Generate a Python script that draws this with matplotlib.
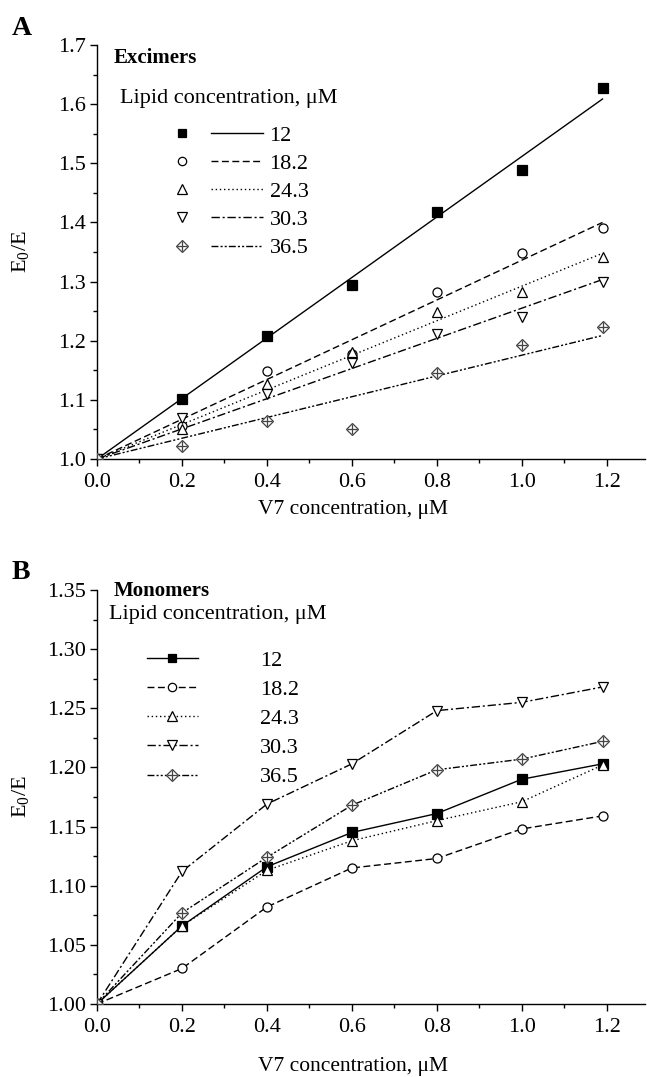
import numpy as np
import matplotlib
matplotlib.use("Agg")
import matplotlib.pyplot as plt
from matplotlib.lines import Line2D
from matplotlib.legend_handler import HandlerTuple
from matplotlib.ticker import MultipleLocator, FormatStrFormatter

plt.rcParams['font.family'] = ['Liberation Serif', 'DejaVu Serif']
plt.rcParams['mathtext.fontset'] = 'custom'
plt.rcParams['mathtext.rm'] = 'Liberation Serif'
plt.rcParams['mathtext.it'] = 'Liberation Serif:italic'

# datos
v7 = [0, 0.2, 0.4, 0.6, 0.8, 1.0, 1.19]
lipidos = ['12', '18.2', '24.3', '30.3', '36.5']

exc_12 = [1.0, 1.102, 1.208, 1.294, 1.418, 1.488, 1.628]
exc_18 = [1.0, 1.055, 1.148, 1.178, 1.283, 1.348, 1.390]
exc_24 = [1.0, 1.051, 1.127, 1.181, 1.248, 1.283, 1.341]
exc_30 = [1.0, 1.069, 1.110, 1.163, 1.212, 1.240, 1.300]
exc_36 = [1.0, 1.022, 1.065, 1.050, 1.145, 1.193, 1.223]

mon_12 = [1.0, 1.066, 1.116, 1.145, 1.161, 1.190, 1.203]
mon_18 = [1.0, 1.030, 1.082, 1.115, 1.123, 1.148, 1.159]
mon_24 = [1.0, 1.066, 1.113, 1.138, 1.155, 1.171, 1.202]
mon_30 = [1.0, 1.112, 1.169, 1.203, 1.248, 1.255, 1.268]
mon_36 = [1.0, 1.077, 1.124, 1.168, 1.198, 1.207, 1.222]

excimeros = [exc_12, exc_18, exc_24, exc_30, exc_36]
monomeros = [mon_12, mon_18, mon_24, mon_30, mon_36]

# estilos
estilos = ['-', (0, (5, 2.5)), (0, (1, 2)), (0, (6, 2, 1.5, 2)), (0, (5, 1.5, 1.5, 1.5, 1.5, 1.5))]
marcadores = ['s', 'o', '^', 'v', 'D']
caras = ['black', 'white', 'white', 'white', 'white']
bordes = ['black', 'black', 'black', 'black', '#444444']
tam = [6.5, 6.5, 7, 7, 6.5]

fs = 16
fig = plt.figure(figsize=(6.47, 10.77), dpi=100)
axA = fig.add_axes([0.1499, 0.5738, 0.847, 0.3844])
axB = fig.add_axes([0.1499, 0.0678, 0.847, 0.3844])


def marca(ax, x, y, i, **kw):
    ax.plot(x, y, linestyle='none', marker=marcadores[i], ms=tam[i],
            mfc=caras[i], mec=bordes[i], mew=0.9, zorder=3, **kw)
    if marcadores[i] == 'D':
        ax.plot(x, y, linestyle='none', marker='+', ms=tam[i] + 1,
                mec=bordes[i], mew=0.9, zorder=4)


def estilo_ejes(ax, ymin, ymax, ymaj, ymin_step, fmt, xlab_y):
    ax.set_xlim(0, 1.29)
    ax.set_ylim(ymin, ymax)
    ax.spines['top'].set_visible(False)
    ax.spines['right'].set_visible(False)
    for s in ['left', 'bottom']:
        ax.spines[s].set_linewidth(1.0)
    ax.xaxis.set_major_locator(MultipleLocator(0.2))
    ax.xaxis.set_minor_locator(MultipleLocator(0.1))
    ax.yaxis.set_major_locator(MultipleLocator(ymaj))
    ax.yaxis.set_minor_locator(MultipleLocator(ymin_step))
    ax.xaxis.set_major_formatter(FormatStrFormatter('%.1f'))
    ax.yaxis.set_major_formatter(FormatStrFormatter(fmt))
    ax.tick_params(which='major', direction='out', length=5, width=1.0, labelsize=16)
    ax.tick_params(axis='x', which='major', pad=5)
    ax.tick_params(axis='y', which='major', pad=3)
    ax.tick_params(which='minor', direction='out', length=3, width=1.0)
    ax.set_xlabel('V7 concentration, \u03bcM', fontsize=15.5, va='center')
    ax.set_ylabel(r'E$_0$/E', fontsize=16, va='center')
    ax.xaxis.set_label_coords(0.468, xlab_y)
    ax.yaxis.set_label_coords(-0.14, 0.5)
    ax.patch.set_alpha(0)


# A: excimeros, puntos + ajuste lineal por (0, 1)
x = np.array(v7)
manejadores = []
for i, serie in enumerate(excimeros):
    y = np.array(serie)
    pendiente = np.sum(x * (y - 1)) / np.sum(x * x)
    marca(axA, x, y, i)
    axA.plot([0, x[-1]], [1, 1 + pendiente * x[-1]], color='black',
             linestyle=estilos[i], lw=1.0, zorder=2)
    m = Line2D([], [], linestyle='none', marker=marcadores[i], ms=tam[i] - 0.5,
               mfc=caras[i], mec=bordes[i], mew=0.9)
    l = Line2D([], [], color='black', linestyle=estilos[i], lw=1.0)
    if marcadores[i] == 'D':
        p = Line2D([], [], linestyle='none', marker='+', ms=tam[i], mec=bordes[i], mew=0.9)
        manejadores.append(((m, p), l))
    else:
        manejadores.append((m, l))

estilo_ejes(axA, 1.0, 1.7, 0.1, 0.05, '%.1f', -0.123)

axA.text(0.03, 0.969, 'Excimers', transform=axA.transAxes, fontsize=15,
         fontweight='bold', va='center', ha='left')
axA.text(0.042, 0.87, 'Lipid concentration, \u03bcM', transform=axA.transAxes,
         fontsize=fs, va='center', ha='left')


class HandlerPar(HandlerTuple):
    def create_artists(self, legend, orig_handle, xdescent, ydescent, width,
                       height, fontsize, trans):
        mk, ln = orig_handle
        mitad = width / 2.0
        arts = []
        mks = mk if isinstance(mk, tuple) else (mk,)
        for h in mks:
            hm = legend.get_legend_handler(legend.get_legend_handler_map(), h)
            arts += hm.create_artists(legend, h, xdescent, ydescent, mitad - 1,
                                      height, fontsize, trans)
        hl = legend.get_legend_handler(legend.get_legend_handler_map(), ln)
        arts += hl.create_artists(legend, ln, xdescent - mitad - 1, ydescent,
                                  mitad - 1, height, fontsize, trans)
        return arts


legA = axA.legend(manejadores, lipidos, loc='upper left',
                  bbox_to_anchor=(0.108, 0.806), frameon=False, fontsize=fs,
                  handlelength=4.8, handletextpad=0.3, labelspacing=0.34,
                  borderpad=0, borderaxespad=0,
                  handler_map={tuple: HandlerPar()})

# B: monomeros, puntos unidos
manB = []
for i, serie in enumerate(monomeros):
    axB.plot(v7, serie, color='black', linestyle=estilos[i], lw=1.0, zorder=2)
    marca(axB, v7, serie, i)
    l = Line2D([], [], color='black', linestyle=estilos[i], lw=1.0,
               marker=marcadores[i], ms=tam[i] - 0.5, mfc=caras[i], mec=bordes[i], mew=0.9)
    if marcadores[i] == 'D':
        p = Line2D([], [], linestyle='none', marker='+', ms=tam[i], mec=bordes[i], mew=0.9)
        manB.append((l, p))
    else:
        manB.append(l)

estilo_ejes(axB, 1.0, 1.35, 0.05, 0.025, '%.2f', -0.152)

axB.text(0.03, 0.997, 'Monomers', transform=axB.transAxes, fontsize=15,
         fontweight='bold', va='center', ha='left')
axB.text(0.022, 0.94, 'Lipid concentration, \u03bcM', transform=axB.transAxes,
         fontsize=fs, va='center', ha='left')

legB = axB.legend(manB, lipidos, loc='upper left', bbox_to_anchor=(0.091, 0.855),
                  frameon=False, fontsize=fs, handlelength=2.3, handletextpad=2.8,
                  labelspacing=0.39, borderpad=0, borderaxespad=0,
                  handler_map={tuple: HandlerTuple(ndivide=1)})

fig.text(0.018, 0.974, 'A', fontsize=20, fontweight='bold', va='center', ha='left')
fig.text(0.018, 0.468, 'B', fontsize=20, fontweight='bold', va='center', ha='left')

fig.savefig('out.png', dpi=100)
